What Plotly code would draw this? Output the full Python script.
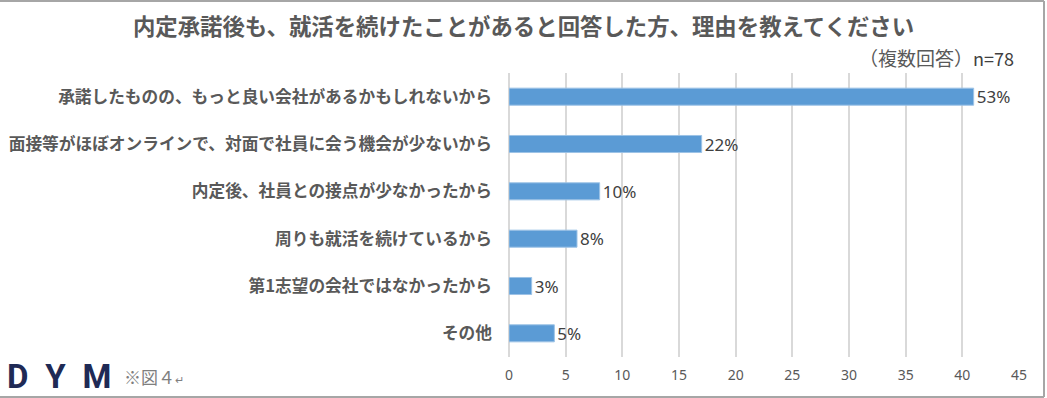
import plotly.graph_objects as go

# ---- data ----
categories = [
    "承諾したものの、もっと良い会社があるかもしれないから",
    "面接等がほぼオンラインで、対面で社員に会う機会が少ないから",
    "内定後、社員との接点が少なかったから",
    "周りも就活を続けているから",
    "第1志望の会社ではなかったから",
    "その他",
]
counts = [41, 17, 8, 6, 2, 4]
pct_labels = ["53%", "22%", "10%", "8%", "3%", "5%"]
x_ticks = [0, 5, 10, 15, 20, 25, 30, 35, 40, 45]
title_text = "内定承諾後も、就活を続けたことがあると回答した方、理由を教えてください"
subtitle_text = "（複数回答）<span style='font-size:18px;color:#404040'>n=78</span>"
logo_text = "D\u2002Y\u2002M"
note_text = "※図４<span style='font-size:11px'>↵</span>"

# ---- layout geometry ----
W, H = 1047, 398
L, R, T, B = 509, 28, 73, 41
PW, PH = W - L - R, H - T - B


def px2x(px):
    return (px - L) / PW


def px2y(py):
    return (H - B - py) / PH


JP = "Noto Sans CJK JP"
GRAY = "#595959"

fig = go.Figure(
    go.Bar(
        x=counts,
        y=categories,
        orientation="h",
        width=0.36,
        marker=dict(color="#5B9BD5", line=dict(color="#9DC3E6", width=1)),
        text=pct_labels,
        textposition="outside",
        constraintext="none",
        textfont=dict(family="Noto Sans", size=17, color="#404040"),
        cliponaxis=False,
    )
)

fig.update_layout(
    width=W,
    height=H,
    margin=dict(l=L, r=R, t=T, b=B, pad=0, autoexpand=False),
    paper_bgcolor="white",
    plot_bgcolor="white",
    showlegend=False,
    title=dict(
        text=title_text,
        x=0.5,
        xref="container",
        xanchor="center",
        y=1 - 27 / H,
        yref="container",
        yanchor="middle",
        automargin=False,
        font=dict(family=JP, size=22.4, color=GRAY, weight=700),
    ),
    xaxis=dict(
        range=[0, 45],
        tickvals=x_ticks,
        showgrid=True,
        gridcolor="#D9D9D9",
        gridwidth=1.5,
        zeroline=True,
        zerolinecolor="#D9D9D9",
        zerolinewidth=1.5,
        showline=False,
        ticks="",
        ticklabelstandoff=8,
        automargin=False,
        tickfont=dict(family="Noto Sans", size=14, color=GRAY),
        fixedrange=True,
    ),
    yaxis=dict(
        autorange="reversed",
        showgrid=False,
        zeroline=False,
        showline=False,
        ticks="",
        ticklabelstandoff=16,
        automargin=False,
        tickfont=dict(family=JP, size=16.7, color=GRAY, weight=700),
        fixedrange=True,
    ),
    bargap=0.64,
)

annotations = [
    dict(
        text=subtitle_text,
        xref="paper", yref="paper",
        x=px2x(1016), y=px2y(58),
        xanchor="right", yanchor="middle",
        showarrow=False,
        font=dict(family=JP, size=19, color=GRAY),
    ),
    dict(
        text=logo_text,
        xref="paper", yref="paper",
        x=px2x(5), y=px2y(376),
        xanchor="left", yanchor="middle",
        showarrow=False,
        font=dict(family="Roboto", size=33, color="#1F2A55", weight=700),
    ),
    dict(
        text=note_text,
        xref="paper", yref="paper",
        x=px2x(122), y=px2y(376),
        xanchor="left", yanchor="middle",
        showarrow=False,
        font=dict(family=JP, size=17, color="#7F7F7F"),
    ),
]
fig.update_layout(annotations=annotations)

# outer frame (top, right, bottom)
frame_color = "#A6A6A6"
fig.update_layout(
    shapes=[
        dict(type="line", xref="paper", yref="paper",
             x0=px2x(0), x1=px2x(1044), y0=px2y(1), y1=px2y(1),
             line=dict(color=frame_color, width=2)),
        dict(type="line", xref="paper", yref="paper",
             x0=px2x(1044), x1=px2x(1044), y0=px2y(1), y1=px2y(397),
             line=dict(color=frame_color, width=2)),
        dict(type="line", xref="paper", yref="paper",
             x0=px2x(0), x1=px2x(1044), y0=px2y(397), y1=px2y(397),
             line=dict(color=frame_color, width=2)),
    ]
)

fig.write_html(
    "out.html",
    config={"displayModeBar": False},
    post_script="document.body.style.margin='0';document.body.style.overflow='hidden';",
)
